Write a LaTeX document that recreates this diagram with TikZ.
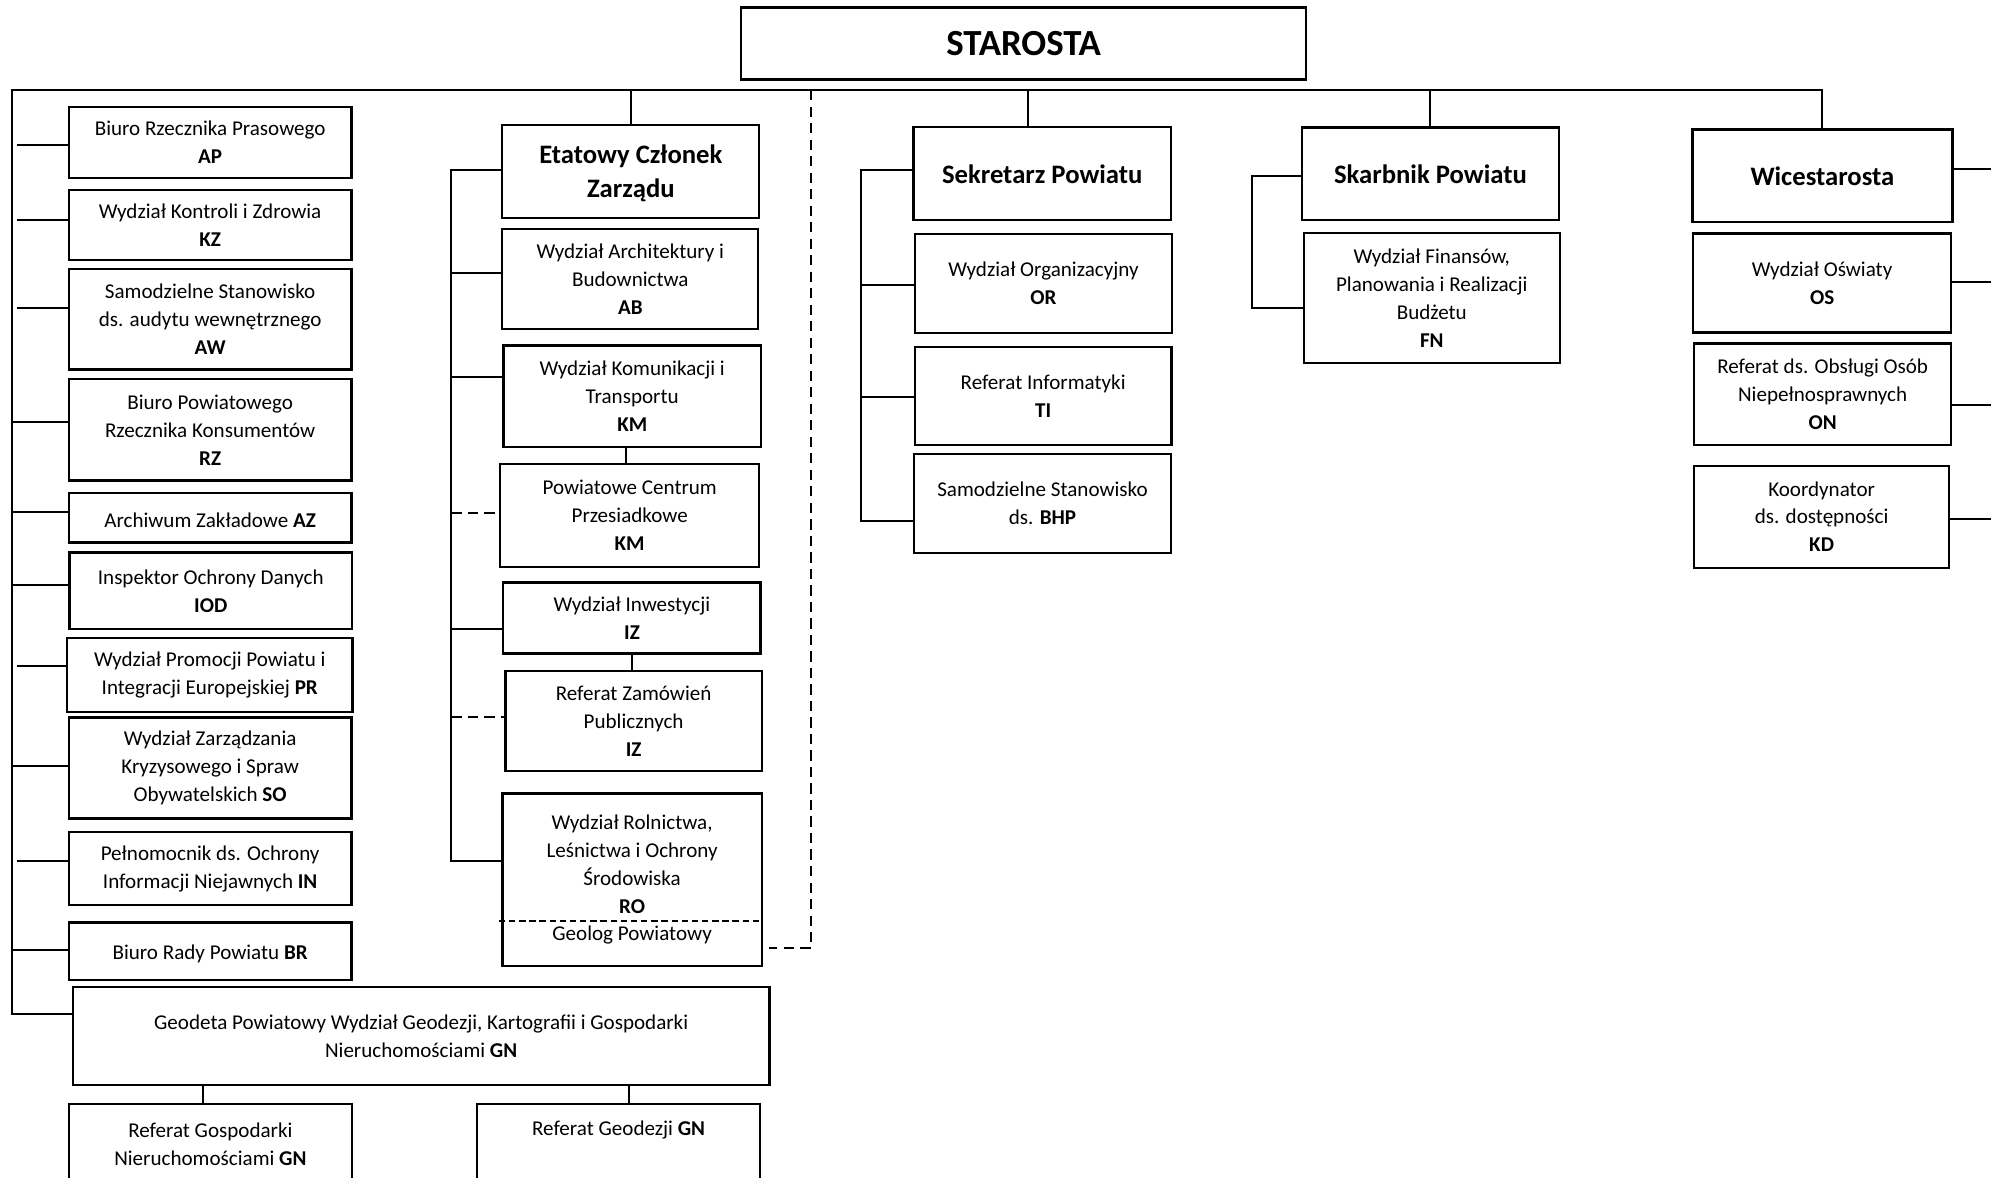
\documentclass[tikz,border=0pt]{standalone}
\usepackage{fontspec}
\setmainfont{Carlito}
\begin{document}
\begin{tikzpicture}[x=1pt,y=-1pt,
  box/.style={draw, line width=1.8pt, rectangle, align=center, inner sep=0pt, execute at begin node={\rule{0pt}{16pt}}, font=\fontsize{16.6}{22}\selectfont},
  nostrut/.style={execute at begin node={}},
  lw/.style={minimum width=222.6pt},
  head/.style={box, nostrut, font=\fontsize{21}{27}\selectfont\bfseries},
  txt/.style={align=center, inner sep=0pt, font=\fontsize{16.6}{22}\selectfont},
  ln/.style={line width=1.6pt},
  dln/.style={line width=1.6pt, dash pattern=on 8pt off 5pt},
  sep/.style={line width=1.2pt, dash pattern=on 5pt off 3pt}
]
\useasboundingbox (0,0) rectangle (1568,927);
\clip (0,0) rectangle (1568,927);
\fill[white] (0,0) rectangle (1568,927);

% coordinates
\coordinate (lefttop) at (9.5,71);
\coordinate (lx) at (9.5,0);
\coordinate (lxg) at (13,0);
\coordinate (busy) at (0,71);
\coordinate (ex) at (355.5,0);
\coordinate (sx) at (677.9,0);
\coordinate (kx) at (986,0);
\coordinate (rx) at (1568,0);
\coordinate (dtop) at (638.5,71);
\coordinate (dbot) at (638.5,746.8);

% top
\node[box, nostrut, font=\fontsize{29}{34}\selectfont\bfseries, minimum width=445.1pt, minimum height=56.7pt] (st) at (806.2,34.2) {STAROSTA};

% left column
\node[box, lw, minimum height=56.4pt] (ap) at (165.5,112.2) {Biuro Rzecznika Prasowego\\\textbf{AP}};
\node[box, lw, minimum height=55.2pt] (kz) at (165.5,177.2) {Wydział Kontroli i Zdrowia\\\textbf{KZ}};
\node[box, lw, minimum height=78.8pt] (aw) at (165.5,251.5) {Samodzielne Stanowisko\\ds. audytu wewnętrznego\\\textbf{AW}};
\node[box, lw, minimum height=80pt] (rz) at (165.5,338.5) {Biuro Powiatowego\\Rzecznika Konsumentów\\\textbf{RZ}};
\node[box, lw, nostrut, minimum height=39.1pt] (az) at (165.5,407.6) {Archiwum Zakładowe \textbf{AZ}};
\node[box, lw, minimum height=60.6pt] (iod) at (166,465.3) {Inspektor Ochrony Danych\\\textbf{IOD}};
\node[box, minimum width=225pt, minimum height=57.8pt] (pr) at (165.2,531.6) {Wydział Promocji Powiatu i\\Integracji Europejskiej \textbf{PR}};
\node[box, lw, minimum height=79.5pt] (so) at (165.5,604.8) {Wydział Zarządzania\\Kryzysowego i Spraw\\Obywatelskich \textbf{SO}};
\node[box, lw, minimum height=57.2pt] (inn) at (165.5,684.1) {Pełnomocnik ds. Ochrony\\Informacji Niejawnych \textbf{IN}};
\node[box, lw, minimum height=45.2pt] (br) at (165.5,749.2) {Biuro Rady Powiatu \textbf{BR}};
\node[box, minimum width=548.4pt, minimum height=76.9pt] (gn) at (331.7,816) {Geodeta Powiatowy Wydział Geodezji, Kartografii i Gospodarki\\Nieruchomościami \textbf{GN}};
\node[box, lw, nostrut, minimum height=100pt] (gnl) at (165.7,919.5) {};
\node[box, nostrut, minimum width=222.9pt, minimum height=100pt] (gnr) at (487.2,919.5) {};
\node[txt] (gnlt) at (165.7,901) {Referat Gospodarki\\Nieruchomościami \textbf{GN}};
\node[txt] (gnrt) at (487.2,890) {Referat Geodezji \textbf{GN}};

% Etatowy column
\node[head, text depth=0pt, minimum width=202.4pt, minimum height=72.9pt] (ecz) at (496.8,135) {Etatowy Członek\\Zarządu};
\node[box, minimum width=201.6pt, minimum height=79pt] (ab) at (496.4,219.8) {Wydział Architektury i\\Budownictwa\\\textbf{AB}};
\node[box, minimum width=202.9pt, minimum height=79.6pt] (km) at (497.9,312) {Wydział Komunikacji i\\Transportu\\\textbf{KM}};
\node[box, minimum width=204.2pt, minimum height=81.4pt] (pcp) at (495.9,406.1) {Powiatowe Centrum\\Przesiadkowe\\\textbf{KM}};
\node[box, minimum width=202.6pt, minimum height=55.9pt] (iz) at (497.7,486.6) {Wydział Inwestycji\\\textbf{IZ}};
\node[box, minimum width=202pt, minimum height=78.5pt] (rzp) at (499,567.7) {Referat Zamówień\\Publicznych\\\textbf{IZ}};
\node[box, minimum width=204.1pt, minimum height=135.8pt] (ro) at (497.8,692.7) {Wydział Rolnictwa,\\Leśnictwa i Ochrony\\Środowiska\\\textbf{RO}\\Geolog Powiatowy};

% Sekretarz column
\node[head, minimum width=202.9pt, minimum height=73.5pt] (sek) at (820.8,136.6) {Sekretarz Powiatu};
\node[box, minimum width=202.5pt, minimum height=77.7pt] (wor) at (821.8,223.2) {Wydział Organizacyjny\\\textbf{OR}};
\node[box, minimum width=202pt, minimum height=77.5pt] (ti) at (821.5,311.8) {Referat Informatyki\\\textbf{TI}};
\node[box, minimum width=202pt, minimum height=77.8pt] (bhp) at (821,396.4) {Samodzielne Stanowisko\\ds. \textbf{BHP}};

% Skarbnik column
\node[head, minimum width=202.2pt, minimum height=73pt] (ska) at (1126.5,136.8) {Skarbnik Powiatu};
\node[box, minimum width=201.7pt, minimum height=102.9pt] (fn) at (1127.6,234.7) {Wydział Finansów,\\Planowania i Realizacji\\Budżetu\\\textbf{FN}};

% Wicestarosta column
\node[head, minimum width=204.7pt, minimum height=73.2pt] (wic) at (1435.2,138.5) {Wicestarosta};
\node[box, minimum width=202.9pt, minimum height=77.9pt] (os) at (1435,222.8) {Wydział Oświaty\\\textbf{OS}};
\node[box, minimum width=202.2pt, minimum height=80.1pt] (ons) at (1435.4,310.5) {Referat ds. Obsługi Osób\\Niepełnosprawnych\\\textbf{ON}};
\node[box, minimum width=200.5pt, minimum height=80.3pt] (kd) at (1434.6,406.9) {Koordynator\\ds. dostępności\\\textbf{KD}};

% main bus and left spine
\draw[ln] (wic.north) |- (lefttop) |- ([yshift=17.2pt]gn.west);
\draw[ln] (ecz.north |- busy) -- (ecz.north);
\draw[ln] ([xshift=-11.5pt]sek.north |- busy) -- ([xshift=-11.5pt]sek.north);
\draw[ln] (ska.north |- busy) -- (ska.north);

% left stubs
\draw[ln] ([yshift=-2.2pt]ap.west -| lxg) -- ([yshift=-2.2pt]ap.west);
\draw[ln] ([yshift=3.9pt]kz.west -| lxg) -- ([yshift=3.9pt]kz.west);
\draw[ln] ([yshift=8.7pt]aw.west -| lxg) -- ([yshift=8.7pt]aw.west);
\draw[ln] ([yshift=5.9pt]rz.west -| lx) -- ([yshift=5.9pt]rz.west);
\draw[ln] ([yshift=4.1pt]az.west -| lx) -- ([yshift=4.1pt]az.west);
\draw[ln] ([yshift=4.3pt]iod.west -| lx) -- ([yshift=4.3pt]iod.west);
\draw[ln] ([yshift=7.1pt]pr.west -| lxg) -- ([yshift=7.1pt]pr.west);
\draw[ln] ([yshift=1.8pt]so.west -| lx) -- ([yshift=1.8pt]so.west);
\draw[ln] ([yshift=6.3pt]inn.west -| lxg) -- ([yshift=6.3pt]inn.west);
\draw[ln] ([yshift=1pt]br.west -| lx) -- ([yshift=1pt]br.west);

% GN sub boxes
\draw[ln] ([xshift=-5.7pt]gnl.north |- gn.south) -- ([xshift=-5.7pt]gnl.north);
\draw[ln] ([xshift=8.2pt]gnr.north |- gn.south) -- ([xshift=8.2pt]gnr.north);

% Etatowy bracket
\draw[ln] ([yshift=1.1pt]ecz.west) -| ([yshift=14.9pt]ro.west -| ex) -- ([yshift=14.9pt]ro.west);
\draw[ln] ([yshift=4.5pt]ab.west -| ex) -- ([yshift=4.5pt]ab.west);
\draw[ln] ([yshift=14.8pt]km.west -| ex) -- ([yshift=14.8pt]km.west);
\draw[dln] ([yshift=2.4pt]pcp.west -| ex) -- ([yshift=2.4pt]pcp.west);
\draw[ln] ([yshift=-9pt]iz.west -| ex) -- ([yshift=-9pt]iz.west);
\draw[dln] ([yshift=3.1pt]rzp.west -| ex) -- ([yshift=3.1pt]rzp.west);
\draw[ln] ([xshift=-5.2pt]km.south) -- ([xshift=-5.2pt]km.south |- pcp.north);
\draw[ln] (iz.south) -- (iz.south |- rzp.north);

% RO separator and dashed link
\draw[sep] ([xshift=-2pt,yshift=-32.6pt]ro.west) -- ([yshift=-32.6pt]ro.east);
\draw[dln] (dtop) -- (dbot) -- ([xshift=5pt]dbot -| ro.east);

% Sekretarz bracket
\draw[ln] ([yshift=2.7pt]sek.west) -| ([yshift=-13.6pt]bhp.west -| sx) -- ([yshift=-13.6pt]bhp.west);
\draw[ln] ([yshift=-1.2pt]wor.west -| sx) -- ([yshift=-1.2pt]wor.west);
\draw[ln] ([yshift=-0.6pt]ti.west -| sx) -- ([yshift=-0.6pt]ti.west);

% Skarbnik bracket
\draw[ln] ([yshift=-1.5pt]ska.west) -| ([yshift=-7.6pt]fn.west -| kx) -- ([yshift=-7.6pt]fn.west);

% Wicestarosta right stubs
\draw[ln] ([yshift=5.1pt]wic.east) -- ([yshift=5.1pt]wic.east -| rx);
\draw[ln] ([yshift=0.4pt]os.east) -- ([yshift=0.4pt]os.east -| rx);
\draw[ln] ([yshift=-8.5pt]ons.east) -- ([yshift=-8.5pt]ons.east -| rx);
\draw[ln] ([yshift=-2.1pt]kd.east) -- ([yshift=-2.1pt]kd.east -| rx);
\end{tikzpicture}
\end{document}
